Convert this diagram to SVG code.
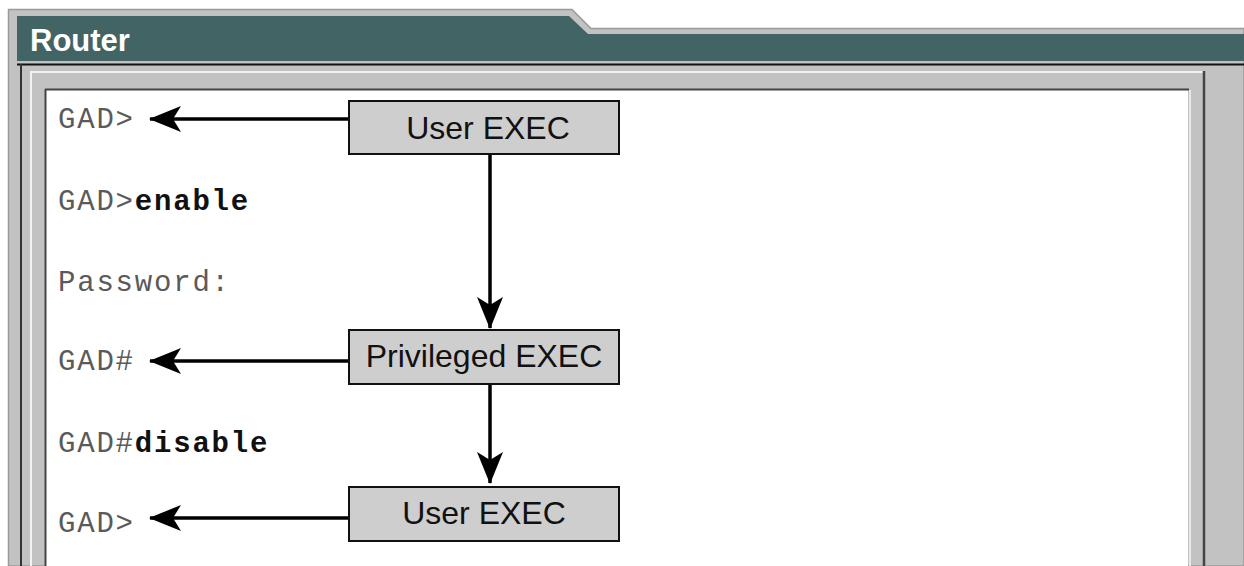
<svg xmlns="http://www.w3.org/2000/svg" width="1244" height="566" viewBox="0 0 1244 566">
  <style>
    .mono { font-family: "Liberation Mono", "Courier New", monospace; font-size: 29px; letter-spacing: 1.8px; fill: #5a5a5a; }
    .cmd { font-weight: bold; fill: #111; }
    .box { fill: #cecece; stroke: #111; stroke-width: 2; }
    .lbl { font-family: "Liberation Sans", Arial, sans-serif; font-size: 32px; fill: #111; text-anchor: middle; }
    .wire { stroke: #000; stroke-width: 3.5; fill: none; }
    .head { fill: #000; }
  </style>
  <defs>
    <marker id="arr" viewBox="0 0 32 26" refX="31" refY="13" markerWidth="32" markerHeight="26" markerUnits="userSpaceOnUse" orient="auto">
      <path d="M0,0 L32,13 L0,26 L8,13 Z" class="head"/>
    </marker>
  </defs>
  <rect x="0" y="0" width="1244" height="566" fill="#fff"/>
  <g id="frame">
    <path d="M8.5,566 V9.5 H572 L591,28.5 H1244 V566 Z" fill="#c2c2c2" stroke="#9a9a9a" stroke-width="1.5"/>
    <path d="M17,61 V16 H569 L588,34 H1244 V61 Z" fill="#426464"/>
    <line x1="17" y1="64.5" x2="1244" y2="64.5" stroke="#111" stroke-width="2"/>
    <line x1="21" y1="64" x2="21" y2="566" stroke="#333" stroke-width="2"/>
    <line x1="30" y1="72" x2="1203" y2="72" stroke="#f2f2f2" stroke-width="2"/>
    <line x1="31" y1="72" x2="31" y2="566" stroke="#f2f2f2" stroke-width="2"/>
    <line x1="1204" y1="71" x2="1204" y2="566" stroke="#444" stroke-width="2.5"/>
    <rect x="46" y="90" width="1142" height="476" fill="#fff"/>
    <line x1="45" y1="89.5" x2="1189" y2="89.5" stroke="#444" stroke-width="2"/>
    <line x1="45.5" y1="89" x2="45.5" y2="566" stroke="#444" stroke-width="2"/>
    <line x1="1190" y1="90" x2="1190" y2="566" stroke="#e8e8e8" stroke-width="2"/>
    <text x="30" y="51" font-family="Liberation Sans, Arial, sans-serif" font-size="31" font-weight="bold" fill="#fff">Router</text>
  </g>
  <g id="connectors">
    <line class="wire" x1="349" y1="119" x2="150" y2="119" marker-end="url(#arr)"/>
    <line class="wire" x1="349" y1="361" x2="150" y2="361" marker-end="url(#arr)"/>
    <line class="wire" x1="349" y1="518" x2="150" y2="518" marker-end="url(#arr)"/>
    <line class="wire" x1="490" y1="154" x2="490" y2="328" marker-end="url(#arr)"/>
    <line class="wire" x1="490" y1="385" x2="490" y2="483" marker-end="url(#arr)"/>
  </g>
  <g id="prompt1"><text class="mono" x="58" y="128">GAD&gt;</text></g>
  <g id="enable"><text class="mono" x="58" y="210">GAD&gt;<tspan class="cmd">enable</tspan></text></g>
  <g id="password"><text class="mono" x="58" y="291">Password:</text></g>
  <g id="prompt2"><text class="mono" x="58" y="370">GAD#</text></g>
  <g id="disable"><text class="mono" x="58" y="452">GAD#<tspan class="cmd">disable</tspan></text></g>
  <g id="prompt3"><text class="mono" x="58" y="532">GAD&gt;</text></g>
  <g id="user-exec-1">
    <rect class="box" x="349" y="101" width="270" height="53"/>
    <text class="lbl" x="488" y="139">User EXEC</text>
  </g>
  <g id="privileged-exec">
    <rect class="box" x="349" y="330" width="270" height="54"/>
    <text class="lbl" x="484" y="367">Privileged EXEC</text>
  </g>
  <g id="user-exec-2">
    <rect class="box" x="349" y="487" width="270" height="54"/>
    <text class="lbl" x="484" y="524">User EXEC</text>
  </g>
</svg>
